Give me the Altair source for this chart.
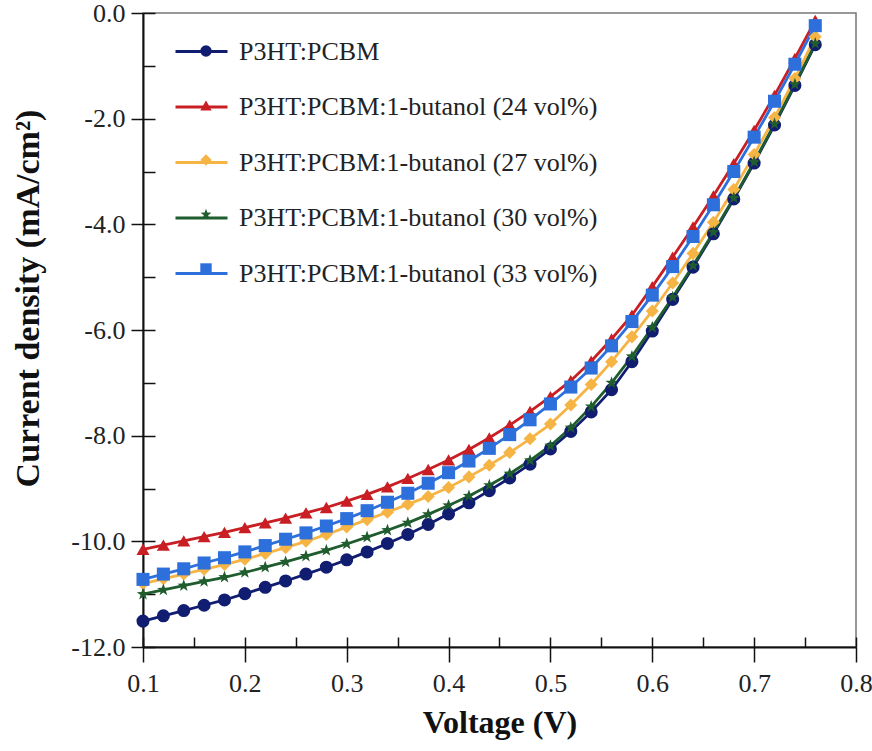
import altair as alt
import pandas as pd

# ---------------- data ----------------
voltage = [0.10, 0.12, 0.14, 0.16, 0.18, 0.20, 0.22, 0.24, 0.26, 0.28,
           0.30, 0.32, 0.34, 0.36, 0.38, 0.40, 0.42, 0.44, 0.46, 0.48,
           0.50, 0.52, 0.54, 0.56, 0.58, 0.60, 0.62, 0.64, 0.66, 0.68,
           0.70, 0.72, 0.74, 0.76]

j_ref = [-11.51, -11.41, -11.31, -11.21, -11.11, -10.99, -10.87, -10.75, -10.62, -10.49,
         -10.35, -10.20, -10.04, -9.87, -9.68, -9.48, -9.27, -9.04, -8.80, -8.54,
         -8.25, -7.92, -7.55, -7.13, -6.60, -6.02, -5.42, -4.81, -4.18, -3.52,
         -2.84, -2.12, -1.37, -0.60]

j_24 = [-10.15, -10.07, -9.99, -9.91, -9.83, -9.74, -9.65, -9.56, -9.46, -9.36,
        -9.24, -9.11, -8.97, -8.81, -8.64, -8.46, -8.26, -8.04, -7.80, -7.54,
        -7.26, -6.96, -6.59, -6.17, -5.72, -5.18, -4.62, -4.05, -3.46, -2.85,
        -2.22, -1.56, -0.86, -0.14]

j_27 = [-10.80, -10.71, -10.62, -10.53, -10.44, -10.34, -10.23, -10.12, -10.00, -9.87,
        -9.73, -9.59, -9.45, -9.30, -9.15, -8.98, -8.78, -8.56, -8.32, -8.06,
        -7.78, -7.42, -7.03, -6.60, -6.13, -5.64, -5.11, -4.55, -3.96, -3.34,
        -2.68, -1.98, -1.24, -0.45]

j_30 = [-11.00, -10.92, -10.84, -10.76, -10.68, -10.59, -10.49, -10.39, -10.28, -10.17,
        -10.05, -9.92, -9.79, -9.65, -9.49, -9.32, -9.14, -8.94, -8.72, -8.47,
        -8.19, -7.85, -7.45, -7.00, -6.50, -5.95, -5.38, -4.78, -4.15, -3.50,
        -2.82, -2.10, -1.35, -0.58]

j_33 = [-10.72, -10.62, -10.52, -10.41, -10.31, -10.20, -10.08, -9.96, -9.84, -9.71,
        -9.57, -9.42, -9.26, -9.09, -8.90, -8.70, -8.48, -8.24, -7.98, -7.70,
        -7.40, -7.08, -6.72, -6.30, -5.84, -5.34, -4.80, -4.23, -3.63, -3.00,
        -2.35, -1.67, -0.97, -0.24]

series_names = ["P3HT:PCBM",
                "P3HT:PCBM:1-butanol (24 vol%)",
                "P3HT:PCBM:1-butanol (27 vol%)",
                "P3HT:PCBM:1-butanol (30 vol%)",
                "P3HT:PCBM:1-butanol (33 vol%)"]
series_values = [j_ref, j_24, j_27, j_30, j_33]
colors = ["#101d70", "#c81e24", "#f6b444", "#1f5c2e", "#2d6fdb"]
STAR = ("M0,-1L0.24,-0.33L0.95,-0.31L0.38,0.12L0.59,0.81L0,0.4L-0.59,0.81"
        "L-0.38,0.12L-0.95,-0.31L-0.24,-0.33Z")
shapes = ["circle", "triangle-up", "diamond", STAR, "square"]

x_major = [0.1, 0.2, 0.3, 0.4, 0.5, 0.6, 0.7, 0.8]
x_minor = [0.1, 0.15, 0.2, 0.25, 0.3, 0.35, 0.4, 0.45, 0.5, 0.55, 0.6, 0.65, 0.7, 0.75, 0.8]
y_major = [-12, -10, -8, -6, -4, -2, 0]
y_minor = [-12, -11, -10, -9, -8, -7, -6, -5, -4, -3, -2, -1, 0]

marker_names = [s + " " for s in series_names]

rows = []
for name, mname, vals in zip(series_names, marker_names, series_values):
    for v, j in zip(voltage, vals):
        rows.append({"series": name, "marker": mname, "voltage": v, "current": j})
df = pd.DataFrame(rows)

# ---------------- layout ----------------
W, H = 713, 634
FONT = "Liberation Serif"
LFS = 26

xscale = alt.Scale(domain=[0.1, 0.8], nice=False, zero=False)
yscale = alt.Scale(domain=[-12, 0], nice=False, zero=False)

lines = alt.Chart(df).mark_line(strokeWidth=2.8).encode(
    x=alt.X("voltage:Q", scale=xscale,
            axis=alt.Axis(values=x_major, format=".1f", title="Voltage (V)",
                          labelFont=FONT, labelFontSize=26,
                          tickSize=15, labelPadding=8, labelFlush=False,
                          labelOverlap=False, grid=False,
                          titleBaseline="middle", titleY=75)),
    y=alt.Y("current:Q", scale=yscale,
            axis=alt.Axis(values=y_major, title="Current density (mA/cm²)",
                          labelExpr="(datum.value < 0 ? '-' : '') + format(abs(datum.value), '.1f')",
                          labelFont=FONT, labelFontSize=26,
                          tickSize=12, labelPadding=6, labelFlush=False,
                          labelOverlap=False, grid=False, titleFontSize=34,
                          titleBaseline="middle", titleX=-115, titleY=285)),
    stroke=alt.Stroke("series:N",
                      scale=alt.Scale(domain=series_names, range=colors),
                      legend=alt.Legend(title=None, orient="none", legendX=31, legendY=11,
                                        symbolType="stroke", symbolSize=2704,
                                        symbolStrokeWidth=3, labelFontSize=LFS,
                                        labelFont=FONT, labelColor="#222",
                                        labelLimit=600, labelOffset=10,
                                        rowPadding=14.5, padding=0)),
)

marker_legend = alt.Legend(title=None, orient="none", legendX=50, legendY=25,
                           symbolSize=130, symbolStrokeWidth=0,
                           labelFontSize=LFS, labelFont=FONT,
                           labelExpr="''", labelColor="transparent", labelLimit=600,
                           rowPadding=28.5, padding=0)

points = alt.Chart(df).mark_point(filled=True, size=170, opacity=1, strokeWidth=0).encode(
    x=alt.X("voltage:Q", scale=xscale,
            axis=alt.Axis(orient="top", offset=-H, values=x_minor, labels=False,
                          domain=False, tickSize=10, grid=False, title=None)),
    y=alt.Y("current:Q", scale=yscale,
            axis=alt.Axis(orient="right", offset=-W, values=y_minor, labels=False,
                          domain=False, tickSize=12, grid=False, title=None)),
    fill=alt.Fill("marker:N",
                  scale=alt.Scale(domain=marker_names, range=colors),
                  legend=marker_legend),
    shape=alt.Shape("marker:N",
                    scale=alt.Scale(domain=marker_names, range=shapes),
                    legend=marker_legend),
)

chart = alt.layer(lines, points).resolve_axis(
    x="independent", y="independent"
).properties(
    width=W, height=H,
    padding={"left": 143, "top": 13, "right": 16, "bottom": 104},
    autosize=alt.AutoSizeParams(type="none"),
).configure_view(
    stroke="#777", strokeWidth=1.5
).configure_axis(
    labelFont=FONT, labelFontSize=26, labelColor="#222",
    titleFont=FONT, titleFontSize=32, titleFontWeight="bold", titleColor="#111",
    domainColor="#111", domainWidth=2, tickColor="#111", tickWidth=1.5,
)

chart.save("out.html", embed_options={"renderer": "svg", "actions": False})
